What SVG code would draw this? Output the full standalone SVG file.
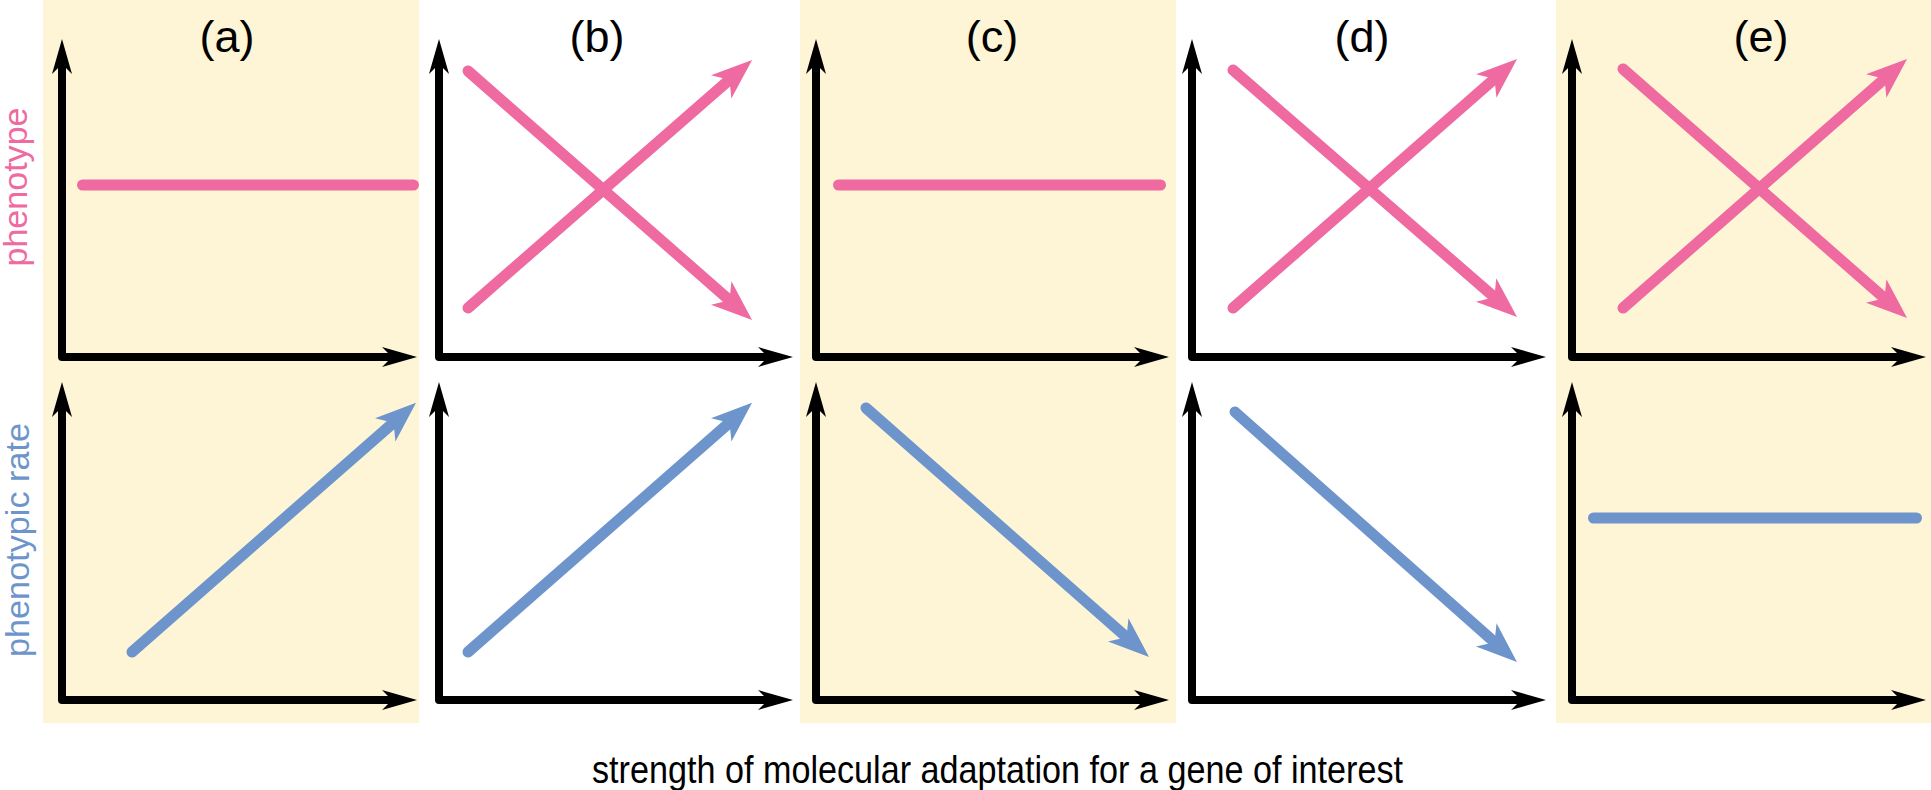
<svg xmlns="http://www.w3.org/2000/svg" width="1931" height="790" viewBox="0 0 1931 790">
<style>
.bg{fill:#FEF5D6}
.axis{fill:none;stroke:#000;stroke-width:8;stroke-linejoin:round;marker-start:url(#axHead);marker-end:url(#axHead)}
.pk{fill:none;stroke:#EE6AA0;stroke-width:11;stroke-linecap:round}
.bl{fill:none;stroke:#6D95CC;stroke-width:11;stroke-linecap:round}
.pa{marker-end:url(#pkHead)}
.ba{marker-end:url(#blHead)}
.ttl{font-family:"Liberation Sans",Arial,sans-serif;font-size:45px;fill:#000;text-anchor:middle}
.ylab{font-family:"Liberation Sans",Arial,sans-serif;font-size:33px;text-anchor:middle}
.xlab{font-family:"Liberation Sans",Arial,sans-serif;font-size:39px;fill:#000}
</style>
<defs>
<marker id="axHead" markerUnits="userSpaceOnUse" orient="auto-start-reverse" overflow="visible" markerWidth="40" markerHeight="24" refX="0" refY="0">
<path d="M25,0 L-10,-10 L0,0 L-10,10 Z" fill="#000"/>
</marker>
<marker id="pkHead" markerUnits="userSpaceOnUse" orient="auto" overflow="visible" markerWidth="44" markerHeight="32" refX="0" refY="0">
<path d="M26,0 L-15,-15.5 L-4,0 L-15,15.5 Z" fill="#EE6AA0"/>
</marker>
<marker id="blHead" markerUnits="userSpaceOnUse" orient="auto" overflow="visible" markerWidth="44" markerHeight="32" refX="0" refY="0">
<path d="M26,0 L-15,-15.5 L-4,0 L-15,15.5 Z" fill="#6D95CC"/>
</marker>
</defs>

<g id="backgrounds">
<rect class="bg" x="43" y="0" width="376" height="723"/>
<rect class="bg" x="800" y="0" width="376" height="723"/>
<rect class="bg" x="1556" y="0" width="375" height="723"/>
</g>

<g id="axis-labels">
<text class="ylab" fill="#EE6AA0" transform="translate(27,187) rotate(-90)" textLength="159" lengthAdjust="spacingAndGlyphs">phenotype</text>
<text class="ylab" fill="#6D95CC" transform="translate(29,540) rotate(-90)" textLength="234" lengthAdjust="spacingAndGlyphs">phenotypic rate</text>
<text class="xlab" x="592" y="783" textLength="811" lengthAdjust="spacingAndGlyphs">strength of molecular adaptation for a gene of interest</text>
</g>

<g id="panel-a">
<text class="ttl" x="227" y="52">(a)</text>
<path class="axis" d="M62,64 L62,357 L392,357"/>
<path class="axis" d="M62,407 L62,700 L392,700"/>
<line class="pk" x1="82.5" y1="185" x2="413.5" y2="185"/>
<line class="bl ba" x1="132" y1="652" x2="396.5" y2="420"/>
</g>

<g id="panel-b">
<text class="ttl" x="597" y="52">(b)</text>
<path class="axis" d="M439,64 L439,357 L768,357"/>
<path class="axis" d="M439,407 L439,700 L768,700"/>
<line class="pk pa" x1="468" y1="71" x2="732.5" y2="302.9"/>
<line class="pk pa" x1="468" y1="308" x2="732.5" y2="77"/>
<line class="bl ba" x1="468" y1="652" x2="732.5" y2="420"/>
</g>

<g id="panel-c">
<text class="ttl" x="992" y="52">(c)</text>
<path class="axis" d="M816,64 L816,357 L1144,357"/>
<path class="axis" d="M816,407 L816,700 L1144,700"/>
<line class="pk" x1="838.5" y1="185" x2="1160.5" y2="185"/>
<line class="bl ba" x1="866" y1="408" x2="1129.5" y2="639.8"/>
</g>

<g id="panel-d">
<text class="ttl" x="1362" y="52">(d)</text>
<path class="axis" d="M1192,64 L1192,357 L1521,357"/>
<path class="axis" d="M1192,407 L1192,700 L1521,700"/>
<line class="pk pa" x1="1233" y1="70" x2="1497.4" y2="299.9"/>
<line class="pk pa" x1="1233" y1="308" x2="1497.5" y2="76.1"/>
<line class="bl ba" x1="1235" y1="412" x2="1497.5" y2="644.8"/>
</g>

<g id="panel-e">
<text class="ttl" x="1761" y="52">(e)</text>
<path class="axis" d="M1572,64 L1572,357 L1901,357"/>
<path class="axis" d="M1572,407 L1572,700 L1901,700"/>
<line class="pk pa" x1="1623" y1="69" x2="1887.5" y2="300.9"/>
<line class="pk pa" x1="1623" y1="308" x2="1887.5" y2="76.1"/>
<line class="bl" x1="1593.5" y1="518" x2="1916.5" y2="518"/>
</g>
</svg>
